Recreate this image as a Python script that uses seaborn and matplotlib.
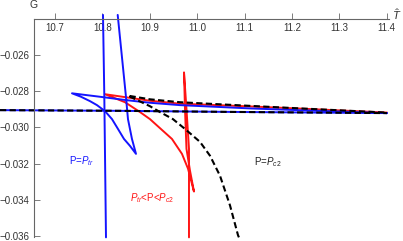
import pandas as pd
import matplotlib
matplotlib.use("Agg")
import matplotlib.pyplot as plt
import seaborn as sns
from matplotlib.ticker import MultipleLocator

# ---- data (T-hat, G) ----
# P = P_tr (blue)
blue_steep_T = [10.8013, 10.8040, 10.8076]
blue_steep_G = [-0.02382, -0.02818, -0.03605]

blue_tail_T = [10.8323, 10.8492, 10.8540, 10.8624, 10.8709,
               10.8582, 10.8456, 10.8329, 10.8203, 10.8055, 10.7886, 10.7738, 10.7549, 10.7359,
               10.7949, 10.8519, 10.9004, 10.9637, 11.1114, 11.2169, 11.4004]
blue_tail_G = [-0.02382, -0.02818, -0.02955, -0.03064, -0.03146,
               -0.03102, -0.03064, -0.03009, -0.02955, -0.02911, -0.02878, -0.02856, -0.02832, -0.02813,
               -0.02832, -0.02851, -0.02865, -0.02878, -0.02896, -0.02906, -0.02922]

flat_T = [10.584, 10.8371, 11.0692, 11.4004]
flat_G = [-0.029055, -0.029093, -0.029153, -0.029218]

# P_tr < P < P_c2 (red)
red_T = [10.9827, 10.9827, 10.9774, 10.9722, 10.9743, 10.9774, 10.9848, 10.9932,
         10.9806, 10.9679, 10.9468, 10.9004, 10.8793, 10.8477, 10.8055,
         10.9004, 10.9637, 11.1114, 11.2169, 11.4004]
red_G = [-0.03605, -0.03118, -0.02900, -0.02698, -0.02900, -0.03118, -0.03238, -0.03353,
         -0.03227, -0.03146, -0.03064, -0.02955, -0.02916, -0.02862, -0.02818,
         -0.02854, -0.02870, -0.02885, -0.02897, -0.02919]

# P = P_c2 (black dashed)
black_T = [11.0880, 11.0861, 11.0692, 11.0481, 11.0270, 11.0059, 10.9743, 10.9489,
           10.9215, 10.9004, 10.8540,
           10.9004, 10.9637, 11.1114, 11.2169, 11.4004]
black_G = [-0.03605, -0.03593, -0.03429, -0.03266, -0.03156, -0.03080, -0.03009, -0.02955,
           -0.02916, -0.02884, -0.02826,
           -0.02846, -0.02862, -0.02882, -0.02896, -0.02919]

x_ticks = [10.7, 10.8, 10.9, 11.0, 11.1, 11.2, 11.3, 11.4]
y_ticks = [-0.026, -0.028, -0.030, -0.032, -0.034, -0.036]

sns.set_style("white")
plt.rcParams["font.family"] = ["Liberation Sans", "DejaVu Sans"]
plt.rcParams["mathtext.fontset"] = "custom"
plt.rcParams["mathtext.rm"] = "Liberation Sans"
plt.rcParams["mathtext.it"] = "Liberation Sans:italic"

fig = plt.figure(figsize=(4.03, 2.41), dpi=100)
ax = fig.add_axes([0, 0, 1, 1])

blue = "#1414ff"
red = "#ff1414"
lw = 1.4

def curve(T, G, **kw):
    df = pd.DataFrame({"T": T, "G": G})
    sns.lineplot(data=df, x="T", y="G", sort=False, estimator=None, ax=ax, **kw)

curve(red_T, red_G, color=red, linewidth=lw)
curve(blue_steep_T, blue_steep_G, color=blue, linewidth=lw)
curve(blue_tail_T, blue_tail_G, color=blue, linewidth=lw)
curve(flat_T, flat_G, color=blue, linewidth=lw)
curve(black_T, black_G, color="black", linewidth=1.5, linestyle=(0, (3, 1.6)))
curve(flat_T, flat_G, color="black", linewidth=1.5, linestyle=(0, (3, 1.6)))

ax.set_xlim(10.584, 11.4342)
ax.set_ylim(-0.03625, -0.023)

axis_col = "#666666"
for s in ["top", "right"]:
    ax.spines[s].set_visible(False)
ax.spines["bottom"].set_position(("data", -0.02402))
ax.spines["left"].set_position(("data", 10.6557))
ax.spines["bottom"].set_bounds(10.6557, 11.405)
ax.spines["left"].set_bounds(-0.03605, -0.02402)
for s in ["bottom", "left"]:
    ax.spines[s].set_color(axis_col)
    ax.spines[s].set_linewidth(0.8)

ax.set_xticks(x_ticks)
ax.set_xticklabels([f"{v:.1f}" for v in x_ticks])
ax.set_yticks(y_ticks)
ax.set_yticklabels([f"\u2212{abs(v):.3f}" for v in y_ticks])
ax.xaxis.set_minor_locator(MultipleLocator(0.02))
ax.yaxis.set_minor_locator(MultipleLocator(0.0005))
ax.tick_params(which="both", direction="in", colors=axis_col, labelcolor="#333333",
               labelsize=7, width=0.6)
ax.tick_params(which="major", length=4, pad=3)
ax.tick_params(which="minor", length=2)
ax.tick_params(axis="x", bottom=True, top=False)
ax.tick_params(axis="y", left=True, right=False)
ax.set_xlabel("")
ax.set_ylabel("")

ax.text(10.6557, -0.02325, "G", fontsize=7.5, color="#333333", ha="center", va="center")
ax.text(11.4215, -0.02378, r"$\hat{T}$", fontsize=8, color="#333333", ha="center", va="center")

ax.text(10.757, -0.03186, r"P=$P_{tr}$", fontsize=7, color=blue, ha="center", va="center")
ax.text(10.904, -0.03389, r"$P_{tr}$<P<$P_{c2}$", fontsize=7, color=red, ha="center", va="center")
ax.text(11.148, -0.03191, r"P=$P_{c2}$", fontsize=7, color="#222222", ha="center", va="center")

fig.savefig("out.png", dpi=100)
